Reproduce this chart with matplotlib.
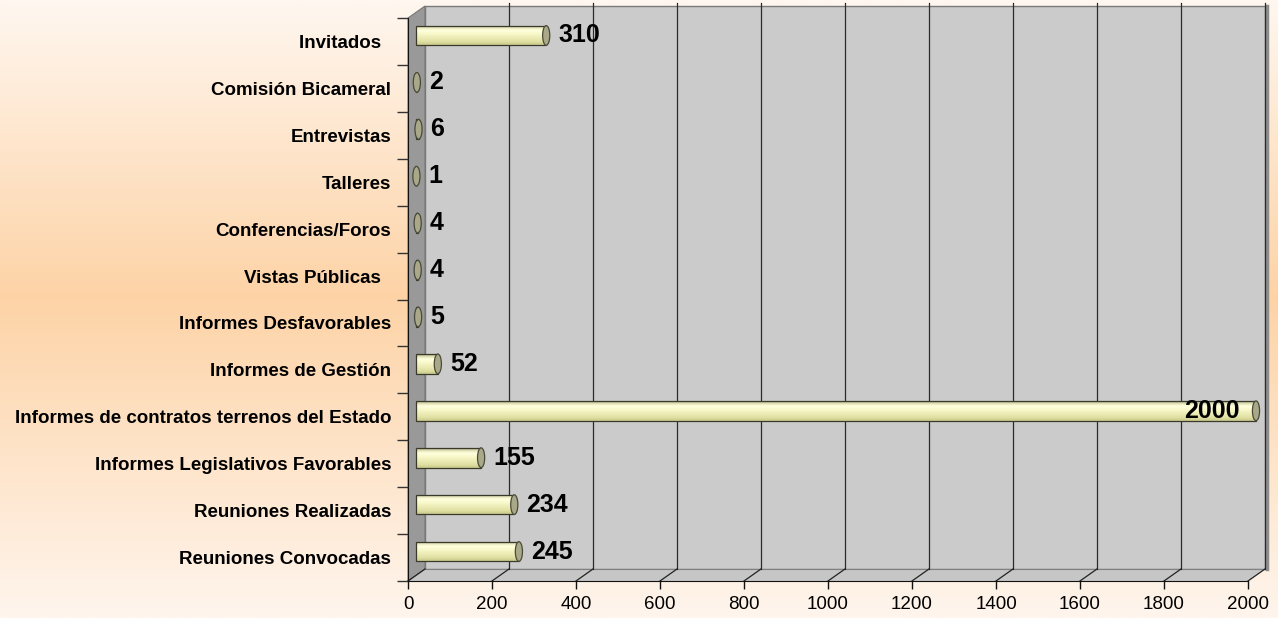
import numpy as np
import matplotlib
matplotlib.use("Agg")
import matplotlib.pyplot as plt
from matplotlib.transforms import ScaledTranslation
from matplotlib.patches import Polygon, Rectangle, Ellipse

# ---------------- data ----------------
categories = [
    "Reuniones Convocadas",
    "Reuniones Realizadas",
    "Informes Legislativos Favorables",
    "Informes de contratos terrenos del Estado",
    "Informes de Gestión",
    "Informes Desfavorables",
    "Vistas Públicas  ",
    "Conferencias/Foros",
    "Talleres",
    "Entrevistas",
    "Comisión Bicameral",
    "Invitados  ",
]
values = [245, 234, 155, 2000, 52, 5, 4, 4, 1, 6, 2, 310]
x_ticks = [0, 200, 400, 600, 800, 1000, 1200, 1400, 1600, 1800, 2000]
x_max = 2000

plt.rcParams['font.family'] = ['Liberation Sans', 'DejaVu Sans']

W, H, DPI = 12.78, 6.18, 100
fig = plt.figure(figsize=(W, H), dpi=DPI)

# ---------------- background gradient ----------------
bg = fig.add_axes([0, 0, 1, 1], zorder=-10)
bg.axis('off')
stops = [0.0, 0.48, 1.0]
c_top = np.array([255, 247, 240]) / 255
c_mid = np.array([253, 211, 166]) / 255
c_bot = np.array([255, 245, 237]) / 255
t = np.linspace(0, 1, 400)
grad = np.zeros((400, 1, 3))
for i, tt in enumerate(t):
    if tt <= stops[1]:
        f = tt / stops[1]
        grad[i, 0] = c_top * (1 - f) + c_mid * f
    else:
        f = (tt - stops[1]) / (1 - stops[1])
        grad[i, 0] = c_mid * (1 - f) + c_bot * f
bg.imshow(grad, aspect='auto', extent=[0, 1, 0, 1], origin='upper')
bg.set_xlim(0, 1)
bg.set_ylim(0, 1)

# ---------------- main axes (front plane) ----------------
ax_l, ax_b, ax_w, ax_h = 408 / 1278, 37 / 618, 840 / 1278, 563 / 618
ax = fig.add_axes([ax_l, ax_b, ax_w, ax_h])
ax.patch.set_visible(False)

depth_x, depth_y = 17, 12          # px offset of back wall
back = ScaledTranslation(depth_x / DPI, depth_y / DPI, fig.dpi_scale_trans)
mid = ScaledTranslation(8 / DPI, 6 / DPI, fig.dpi_scale_trans)
dxa = depth_x / (ax_w * W * DPI)
dya = depth_y / (ax_h * H * DPI)

n = len(categories)
ypos = np.arange(n)

# back wall
ax.add_patch(Rectangle((0, 0), 1, 1, transform=ax.transAxes + back,
                       fc='#CBCBCB', ec='#7a7a7a', lw=1.0, zorder=0, clip_on=False))
ax.plot([1, 1], [0, 1], transform=ax.transAxes + back + ScaledTranslation(2 / DPI, 0, fig.dpi_scale_trans),
        color='#8c8c8c', lw=2.5, zorder=0, clip_on=False)
# floor
ax.add_patch(Polygon([(0, 0), (1, 0), (1 + dxa, dya), (dxa, dya)], closed=True,
                     transform=ax.transAxes, fc='#C6C6C6', ec='none', zorder=0.5, clip_on=False))
ax.plot([dxa, 1 + dxa], [dya, dya], transform=ax.transAxes, color='#808080', lw=0.8,
        zorder=0.6, clip_on=False)
# left wall
ax.add_patch(Polygon([(0, 0), (dxa, dya), (dxa, 1 + dya), (0, 1)], closed=True,
                     transform=ax.transAxes, fc='#999999', ec='#777777', lw=0.8, zorder=0.7,
                     clip_on=False))

# gridlines on back wall + floor diagonals
for xv in x_ticks[1:]:
    ax.plot([xv, xv], [0, 1.005], transform=ax.get_xaxis_transform() + back,
            color='#2a2a2a', lw=0.9, zorder=0.8, clip_on=False)
for xv in x_ticks:
    ax.plot([xv, xv + dxa * x_max], [0, dya], transform=ax.get_xaxis_transform(),
            color='#222222', lw=0.9, zorder=0.9, clip_on=False)

# ---------------- bars (cylinders) ----------------
bar_h = 0.42
bars = ax.barh(ypos, values, height=bar_h, transform=ax.transData + mid,
               color='#EEEEC0', edgecolor='none', zorder=2, clip_on=False)

bar_grad_cols = np.array([
    [190, 190, 150], [232, 232, 190], [255, 255, 222], [252, 252, 212],
    [247, 247, 200], [241, 241, 190], [235, 235, 180], [229, 229, 170],
    [222, 222, 160], [205, 205, 145],
]) / 255
bar_img = bar_grad_cols[:, None, :]
for rect, v, yc in zip(bars.patches, values, ypos):
    im = ax.imshow(bar_img, extent=(0, v, yc - bar_h / 2, yc + bar_h / 2), origin='upper',
                   aspect='auto', transform=ax.transData + mid, zorder=2.2,
                   interpolation='bilinear')
    im.set_clip_path(rect)

ax.barh(ypos, values, height=bar_h, transform=ax.transData + mid, fill=False,
        edgecolor='#3a3a2a', lw=0.9, zorder=2.4, clip_on=False)

cap_w = 17
for v, yc in zip(values, ypos):
    ax.add_patch(Ellipse((v, yc), cap_w, bar_h, transform=ax.transData + mid,
                         fc='#A9A98A', ec='#4a4a3a', lw=0.9, zorder=2.6, clip_on=False))

# value labels
for v, yc in zip(values, ypos):
    if v > 0.9 * x_max:
        tr = ax.transData + mid + ScaledTranslation(-16 / DPI, 0, fig.dpi_scale_trans)
        ha = 'right'
    else:
        tr = ax.transData + mid + ScaledTranslation(12 / DPI, 0, fig.dpi_scale_trans)
        ha = 'left'
    ax.text(v, yc, str(v), transform=tr, ha=ha, va='center', fontsize=18,
            fontweight='bold', color='black', zorder=5, clip_on=False)

# ---------------- axes / ticks ----------------
ax.set_xlim(0, x_max)
ax.set_ylim(-0.5, n - 0.5)
for s in ['top', 'right']:
    ax.spines[s].set_visible(False)
ax.spines['left'].set_color('#111111')
ax.spines['bottom'].set_color('#111111')
ax.spines['left'].set_zorder(1)

ax.set_xticks(x_ticks)
ax.set_xticklabels([str(x) for x in x_ticks], fontsize=13.5)
ax.tick_params(axis='x', length=6, width=1, color='#111111', pad=5)

ax.set_yticks(np.arange(-0.5, n, 1.0))
ax.set_yticklabels([])
ax.tick_params(axis='y', which='major', length=8, width=1, color='#333333')
ax.set_yticks(ypos, minor=True)
ax.set_yticklabels(categories, minor=True, fontsize=13.5, fontweight='bold')
ax.tick_params(axis='y', which='minor', length=0, pad=12)

fig.savefig('out.png', dpi=DPI)
